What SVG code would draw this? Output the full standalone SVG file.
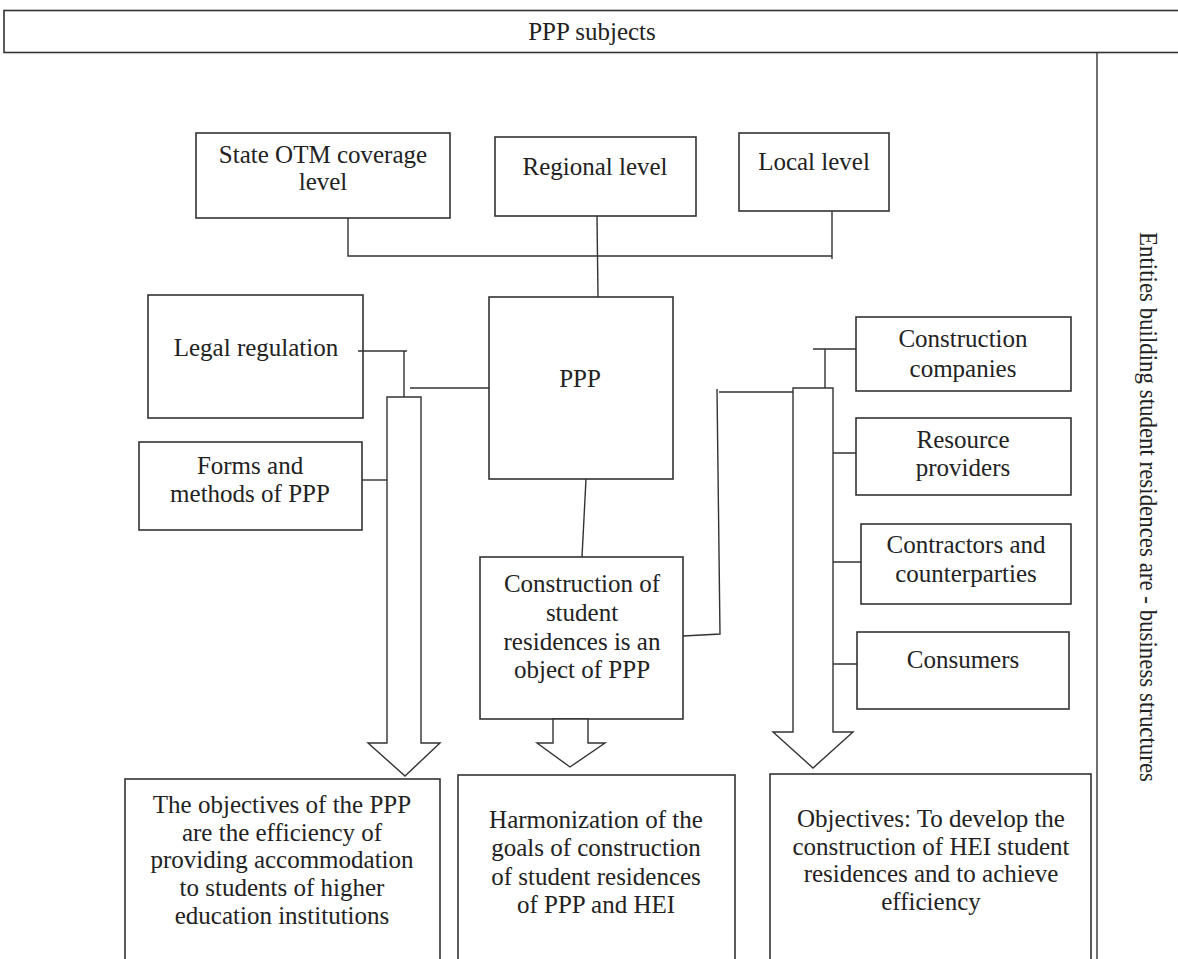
<svg xmlns="http://www.w3.org/2000/svg" width="1178" height="959" viewBox="0 0 1178 959">
<style>
.box{fill:#fff;stroke:#333;stroke-width:1.6}
.ln{fill:none;stroke:#333;stroke-width:1.4}
.arr{fill:#fff;stroke:#333;stroke-width:1.4;stroke-linejoin:miter}
text{font-family:"Liberation Serif","Times New Roman",serif;font-size:25px;fill:#222;text-anchor:middle}
</style>
<rect width="1178" height="959" fill="#fff"/>
<g id="ppp-subjects">
<rect class="box" x="4" y="10.5" width="1190" height="42"/>
<text x="592" y="40">PPP subjects</text>
</g>
<g id="entities-frame">
<line class="ln" x1="1097" y1="52.5" x2="1097" y2="960"/>
<text x="1140" y="507" font-size="26" textLength="550" lengthAdjust="spacingAndGlyphs" transform="rotate(90 1140 507)">Entities building student residences are - business structures</text>
</g>
<g id="state-level">
<rect class="box" x="196" y="133" width="254" height="85"/>
<text x="323" y="163">State OTM coverage</text>
<text x="323" y="190">level</text>
</g>
<g id="regional-level">
<rect class="box" x="495" y="137" width="201" height="79"/>
<text x="595" y="175">Regional level</text>
</g>
<g id="local-level">
<rect class="box" x="739" y="133" width="150" height="78"/>
<text x="814" y="170">Local level</text>
</g>
<g id="ppp">
<rect class="box" x="489" y="297" width="184" height="182"/>
<text x="580" y="387">PPP</text>
</g>
<g id="legal-regulation">
<rect class="box" x="148" y="295" width="215" height="123"/>
<text x="256" y="356">Legal regulation</text>
</g>
<g id="forms-methods">
<rect class="box" x="139" y="442" width="223" height="88"/>
<text x="250" y="474">Forms and</text>
<text x="250" y="502">methods of PPP</text>
</g>
<g id="construction-object">
<rect class="box" x="480" y="557" width="203" height="162"/>
<text x="582" y="592">Construction of</text>
<text x="582" y="621">student</text>
<text x="582" y="650">residences is an</text>
<text x="582" y="678">object of PPP</text>
</g>
<g id="construction-companies">
<rect class="box" x="856" y="317" width="215" height="74"/>
<text x="963" y="347">Construction</text>
<text x="963" y="377">companies</text>
</g>
<g id="resource-providers">
<rect class="box" x="856" y="418" width="215" height="77"/>
<text x="963" y="448">Resource</text>
<text x="963" y="476">providers</text>
</g>
<g id="contractors">
<rect class="box" x="861" y="524" width="210" height="80"/>
<text x="966" y="553">Contractors and</text>
<text x="966" y="582">counterparties</text>
</g>
<g id="consumers">
<rect class="box" x="857" y="632" width="212" height="77"/>
<text x="963" y="668">Consumers</text>
</g>
<g id="objectives-ppp">
<rect class="box" x="125" y="779" width="315" height="200"/>
<text x="282" y="813">The objectives of the PPP</text>
<text x="282" y="841">are the efficiency of</text>
<text x="282" y="868">providing accommodation</text>
<text x="282" y="896">to students of higher</text>
<text x="282" y="924">education institutions</text>
</g>
<g id="harmonization">
<rect class="box" x="458" y="775" width="277" height="200"/>
<text x="596" y="828">Harmonization of the</text>
<text x="596" y="856">goals of construction</text>
<text x="596" y="885">of student residences</text>
<text x="596" y="913">of PPP and HEI</text>
</g>
<g id="objectives-hei">
<rect class="box" x="770" y="774" width="321" height="200"/>
<text x="931" y="827">Objectives: To develop the</text>
<text x="931" y="855">construction of HEI student</text>
<text x="931" y="882">residences and to achieve</text>
<text x="931" y="910">efficiency</text>
</g>
<g id="connectors">
<path class="ln" d="M348 218 V256 H832 M832 211 V259"/>
<path class="ln" d="M597 216 L598 297"/>
<path class="ln" d="M358 351 H407 M404 351 V397"/>
<path class="ln" d="M410 388 H489"/>
<path class="ln" d="M362 480 H387"/>
<path class="ln" d="M586 479 L582 557"/>
<path class="ln" d="M683 636 L720 634 L717 389 M719 392 H793"/>
<path class="ln" d="M813 349 H856 M825 349 V388"/>
<path class="ln" d="M833 453 H856 M833 562 H861 M833 664 H857"/>
<polygon class="arr" points="387,397 421,397 421,743 440,743 405,776 368,743 387,743"/>
<polygon class="arr" points="553,719 588,719 588,743 605,743 570,767 537,743 553,743"/>
<polygon class="arr" points="793,388 833,388 833,732 853,732 813,768 773,732 793,732"/>
</g>
</svg>
